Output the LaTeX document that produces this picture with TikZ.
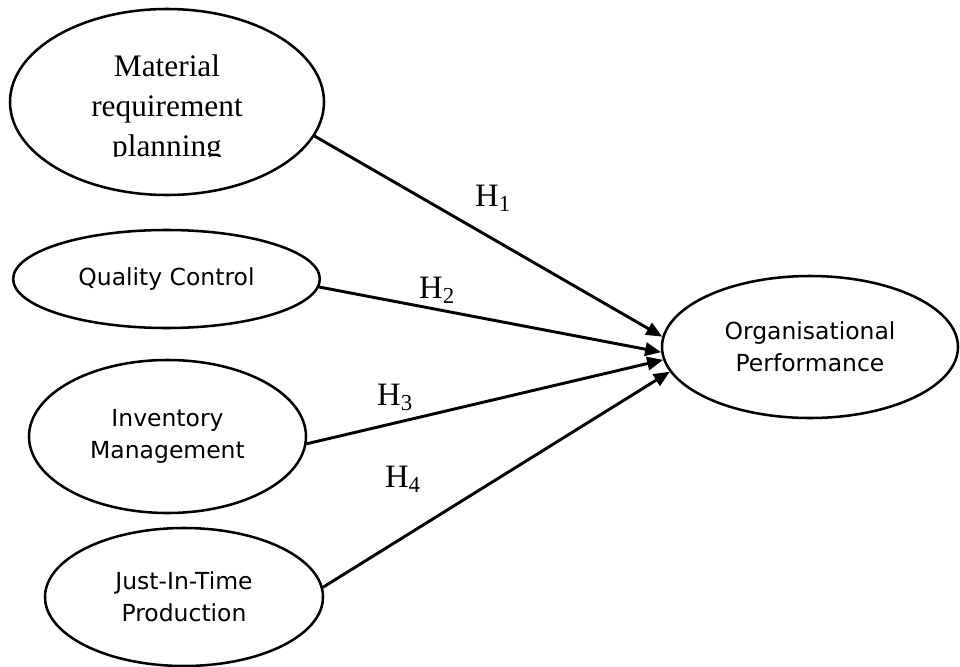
\documentclass[tikz,border=0pt]{standalone}
\usepackage{fontspec}
\setmainfont{Liberation Serif}
\newfontfamily\tahomafont{DejaVu Sans}
\usetikzlibrary{shapes.geometric, arrows.meta}
\tikzstyle{construct} = [draw, ellipse, line width=1.9pt, inner sep=0pt, align=center]
\tikzstyle{sanstext} = [font=\tahomafont\fontsize{17.6}{24}\selectfont]
\tikzstyle{hyparrow} = [line width=2.2pt, -{Triangle[length=12pt,width=10pt]}]
\tikzstyle{hyplabel} = [font=\fontsize{24.5}{28}\selectfont, inner sep=0pt]

\begin{document}
\begin{tikzpicture}[x=0.75pt, y=-0.75pt]
\useasboundingbox (0,0) rectangle (960,667);

% Constructs
\node[construct, minimum width=235.5pt, minimum height=139.5pt] (mrp) at (167,102) {};
\begin{scope}
    \clip (0,0) rectangle (960,156);
    \node[font=\fontsize{23.5}{30}\selectfont, align=center, inner sep=0pt] (mrptext) at (167,109) {Material\\requirement\\planning};
\end{scope}
\node[construct, sanstext, minimum width=230pt, minimum height=73.5pt] (qc) at (166.5,279) {Quality Control};
\node[construct, sanstext, minimum width=207.75pt, minimum height=114.75pt] (im) at (167.5,436.5) {Inventory\\Management};
\node[construct, sanstext, minimum width=208.5pt, minimum height=103.5pt] (jit) at (184,597) {Just-In-Time\\Production};
\node[construct, sanstext, minimum width=222pt, minimum height=106.5pt] (op) at (810,347) {Organisational\\Performance};

% Hypotheses
\draw[hyparrow] (mrp.-13.5) -- (op.176);
\draw[hyparrow] (qc.-3.4) -- (op.182);
\draw[hyparrow] (im.-3.8) -- (op.185);
\draw[hyparrow] (jit.4.1) -- (op.190);

\node[hyplabel] (h1) at (493,198) {H\textsubscript{1}};
\node[hyplabel] (h2) at (437,290) {H\textsubscript{2}};
\node[hyplabel] (h3) at (395,397) {H\textsubscript{3}};
\node[hyplabel] (h4) at (403,479) {H\textsubscript{4}};

\end{tikzpicture}
\end{document}
